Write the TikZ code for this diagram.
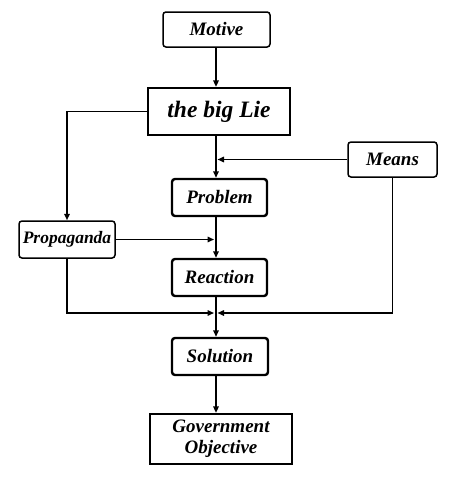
\documentclass[tikz,border=0pt]{standalone}
\usepackage{fontspec}
\setmainfont{Liberation Serif}
\usetikzlibrary{arrows.meta,positioning}

\begin{document}
\begin{tikzpicture}[
  x=1pt,y=-1pt,
  font=\bfseries\itshape\fontsize{19}{21}\selectfont,
  rbox/.style={draw,rounded corners=3pt,line width=1.5pt,inner sep=0pt,align=center},
  tbox/.style={rbox,line width=2.4pt},
  sbox/.style={draw,line width=2.2pt,inner sep=0pt,align=center},
  ar/.style={-{Triangle[length=6.5pt,width=5.5pt]},line width=1.5pt}
]
\useasboundingbox (0,0) rectangle (453,479);

\node[rbox,minimum width=107pt,minimum height=35pt] (motive) at (216.5,29.5) {Motive};
\node[sbox,minimum width=142pt,minimum height=47pt,font=\bfseries\itshape\fontsize{23.5}{26}\selectfont] (lie) at (219,111.5) {the big Lie};
\node[rbox,minimum width=89pt,minimum height=35pt] (means) at (392.5,159.5) {Means};
\node[tbox,minimum width=95pt,minimum height=37pt] (problem) at (219.5,197.5) {Problem};
\node[rbox,minimum width=96pt,minimum height=37pt,font=\bfseries\itshape\fontsize{17.5}{20}\selectfont] (prop) at (67,239.5) {Propaganda};
\node[tbox,minimum width=95pt,minimum height=37pt] (reaction) at (219.5,277.5) {Reaction};
\node[tbox,minimum width=96pt,minimum height=37pt] (solution) at (220,356.5) {Solution};
\node[sbox,minimum width=142pt,minimum height=50pt] (goal) at (221,439) {Government\\Objective};

% joints on the main line
\coordinate (spine) at (216,0);
\coordinate (join) at (216,313);

\draw[ar] (motive.south -| spine) -- (lie.north -| spine);
\draw[ar] (lie.south -| spine) -- (problem.north -| spine);
\draw[ar,shorten >=1.5pt] (means.west) -- (means.west -| spine);
\draw[ar] (lie.west) -| (prop.north);
\draw[ar,shorten >=2pt] (prop.east) -- (prop.east -| spine);
\draw[ar] (problem.south -| spine) -- (reaction.north -| spine);
\draw[line width=1.5pt] (reaction.south -| spine) -- (join);
\draw[ar] (join) -- (solution.north -| spine);
\draw[ar,shorten >=2pt] (prop.south) |- (join);
\draw[ar,shorten >=1.5pt] (means.south) |- (join);
\draw[ar] (solution.south -| spine) -- (goal.north -| spine);
\end{tikzpicture}
\end{document}
